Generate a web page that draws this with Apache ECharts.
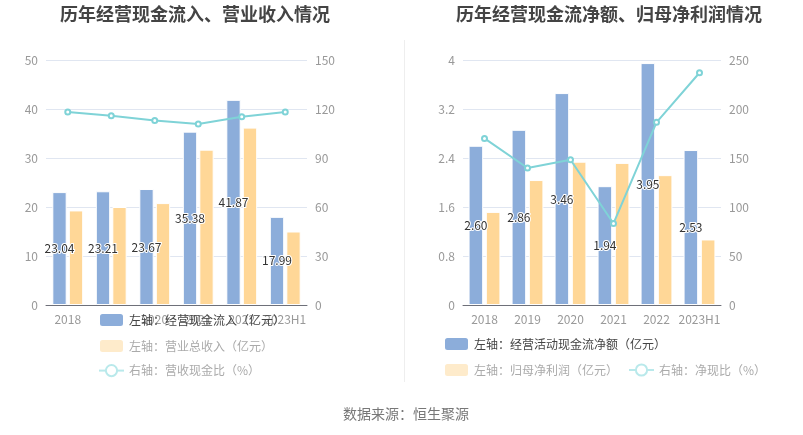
<!DOCTYPE html>
<html><head><meta charset="utf-8">
<script src="https://cdn.jsdelivr.net/npm/echarts@6/dist/echarts.min.js"></script>
<style>html,body{margin:0;padding:0;background:#fff}#c{width:803px;height:435px}</style>
</head><body><div id="c"></div>
<script>
var categories = ['2018','2019','2020','2021','2022','2023H1'];
// left chart
var cashInflow = [23.04, 23.21, 23.67, 35.38, 41.87, 17.99];
var revenue = [19.3, 20.0, 20.8, 31.7, 36.2, 15.0];
var cashRevRatio = [118.1, 115.8, 113.0, 110.8, 115.2, 118.2];
// right chart
var netCashFlow = [2.60, 2.86, 3.46, 1.94, 3.95, 2.53];
var netProfit = [1.52, 2.04, 2.34, 2.32, 2.12, 1.07];
var netCashRatio = [170.0, 139.8, 148.2, 83.2, 186.4, 237.0];

var BLUE = '#8cadda', ORANGE = '#ffd797', CYAN = '#7fd3d7', PALE_O = '#feebcb', PALE_C = '#b9e9eb';
var FONT = '"Noto Sans CJK SC", sans-serif';
var axisLabel = {color: '#999', fontSize: 12, fontFamily: FONT, interval: 0};
var gridLine = {lineStyle: {color: '#e0e6f1'}};
function xAxis(i){
  return {type:'category', gridIndex:i, data:categories,
    axisLine:{lineStyle:{color:'#6e7079'}}, axisTick:{alignWithLabel:true, interval:0, lineStyle:{color:'#6e7079'}},
    axisLabel: axisLabel};
}
function yAxis(i, max, interval, split){
  return {type:'value', gridIndex:i, min:0, max:max, interval:interval,
    axisLine:{show:false}, axisTick:{show:false}, axisLabel: {color:'#999', fontSize:12, fontFamily:FONT},
    splitLine: split ? gridLine : {show:false}};
}
var barLabel = {show:true, position:'inside', color:'#333', fontSize:12, fontFamily:FONT,
  textBorderColor:'#fff', textBorderWidth:2, formatter:function(p){return p.value.toFixed(2);}};
var barStyle = function(c){return {color:c, borderColor:'#fff', borderWidth:1};};

var option = {
  animation:false,
  textStyle:{fontFamily:FONT},
  title:[
    {text:'历年经营现金流入、营业收入情况', left:190, top:0, textAlign:'center',
      textStyle:{fontSize:18, fontWeight:'bold', color:'#444', fontFamily:FONT}},
    {text:'历年经营现金流净额、归母净利润情况', left:604, top:0, textAlign:'center',
      textStyle:{fontSize:18, fontWeight:'bold', color:'#444', fontFamily:FONT}},
    {text:'数据来源：恒生聚源', left:401, top:402, textAlign:'center',
      textStyle:{fontSize:14, fontWeight:'normal', color:'#777', fontFamily:FONT}}
  ],
  grid:[
    {left:46, width:261, top:60, height:245},
    {left:463, width:258, top:60, height:245}
  ],
  xAxis:[xAxis(0), xAxis(1)],
  yAxis:[yAxis(0,50,10,true), yAxis(0,150,30,false), yAxis(1,4,0.8,true), yAxis(1,250,50,false)],
  legend:[
    {orient:'vertical', left:93, top:307, itemWidth:25, itemHeight:14, itemGap:10,
      textStyle:{fontSize:12, fontFamily:FONT},
      data:[
        {name:'左轴：经营现金流入（亿元）', icon:'roundRect', textStyle:{color:'#444'}},
        {name:'左轴：营业总收入（亿元）', icon:'roundRect', itemStyle:{color:PALE_O}, textStyle:{color:'#aaa'}},
        {name:'右轴：营收现金比（%）', itemStyle:{color:PALE_C, borderColor:PALE_C}, lineStyle:{color:PALE_C, type:'solid'}, textStyle:{color:'#aaa'}}
      ]},
    {orient:'horizontal', left:438, top:331, width:335, itemWidth:25, itemHeight:14, itemGap:10,
      textStyle:{fontSize:12, fontFamily:FONT},
      data:[
        {name:'左轴：经营活动现金流净额（亿元）', icon:'roundRect', textStyle:{color:'#444'}},
        {name:'左轴：归母净利润（亿元）', icon:'roundRect', itemStyle:{color:PALE_O}, textStyle:{color:'#aaa'}},
        {name:'右轴：净现比（%）', itemStyle:{color:PALE_C, borderColor:PALE_C}, lineStyle:{color:PALE_C, type:'solid'}, textStyle:{color:'#aaa'}}
      ]}
  ],
  graphic:[
    {type:'line', shape:{x1:404.5, y1:40, x2:404.5, y2:382}, style:{stroke:'#eeeeee', lineWidth:1}}
  ],
  series:[
    {name:'左轴：经营现金流入（亿元）', type:'bar', xAxisIndex:0, yAxisIndex:0, data:cashInflow,
      barWidth:'33%', barGap:'15%', itemStyle:barStyle(BLUE), label:barLabel, z:3},
    {name:'左轴：营业总收入（亿元）', type:'bar', xAxisIndex:0, yAxisIndex:0, data:revenue,
      barWidth:'33%', barGap:'15%', itemStyle:barStyle(ORANGE), z:2},
    {name:'右轴：营收现金比（%）', type:'line', xAxisIndex:0, yAxisIndex:1, data:cashRevRatio,
      symbol:'emptyCircle', symbolSize:5, lineStyle:{color:CYAN, width:2}, itemStyle:{color:CYAN}, z:4},
    {name:'左轴：经营活动现金流净额（亿元）', type:'bar', xAxisIndex:1, yAxisIndex:2, data:netCashFlow,
      barWidth:'34%', barGap:'18%', itemStyle:barStyle(BLUE), label:barLabel, z:3},
    {name:'左轴：归母净利润（亿元）', type:'bar', xAxisIndex:1, yAxisIndex:2, data:netProfit,
      barWidth:'34%', barGap:'18%', itemStyle:barStyle(ORANGE), z:2},
    {name:'右轴：净现比（%）', type:'line', xAxisIndex:1, yAxisIndex:3, data:netCashRatio,
      symbol:'emptyCircle', symbolSize:5, lineStyle:{color:CYAN, width:2}, itemStyle:{color:CYAN}, z:4}
  ]
};
var chart = echarts.init(document.getElementById('c'), null, {renderer:'canvas'});
chart.setOption(option);
</script></body></html>
